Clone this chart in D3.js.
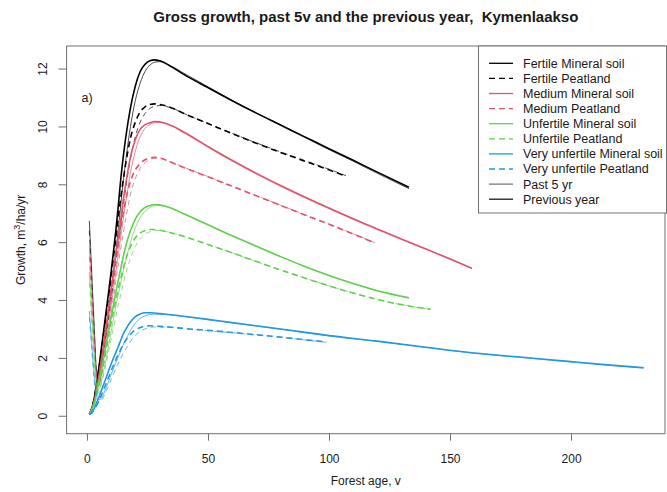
<!DOCTYPE html>
<html>
<head>
<meta charset="utf-8">
<script src="https://cdn.jsdelivr.net/npm/d3@7"></script>
<style>
  html, body { margin: 0; padding: 0; background: #fff; }
  svg text { font-family: "Liberation Sans", Arial, sans-serif; fill: #1a1a1a; }
</style>
</head>
<body>
<svg id="chart" width="667" height="492"></svg>
<script>
// ---- data -------------------------------------------------------------
// Common ages for the rising part of every curve (years)
const riseAges = [1,2,3,4,5,6,7,8,9,10,11,12,13,14,15,16,18,20,22,24,26,28,30];

// Ages for the declining part, per site class
const fertileMineralAges   = [35,40,50,60,70,80,90,100,110,120,133];
const fertilePeatAges      = [35,40,50,60,70,80,90,100,107];
const mediumMineralAges    = [35,40,50,60,70,80,90,100,110,120,130,140,150,159];
const mediumPeatAges       = [35,40,50,60,70,80,90,100,110,119];
const unfertileMineralAges = [35,40,50,60,70,80,90,100,110,120,133];
const unfertilePeatAges    = [35,40,50,60,70,80,90,100,110,120,130,142];
const vuMineralAges        = [35,40,50,60,80,100,120,140,160,180,200,215,230];
const vuPeatAges           = [35,40,50,60,70,80,90,99];

// Growth, m3/ha/yr — previous year
const fertileMineralPrev = [0.05,0.25,0.6,1.1,1.7,2.35,3.0,3.65,4.3,4.98,5.7,6.45,7.3,8.2,8.95,9.6,
  10.65,11.4,11.9,12.15,12.27,12.3,12.27,
  12.06,11.8,11.34,10.89,10.46,10.05,9.64,9.23,8.83,8.42,7.9];
const fertilePeatPrev = [0.05,0.25,0.6,1.1,1.65,2.25,2.9,3.5,4.15,4.8,5.5,6.2,6.9,7.55,8.15,8.7,
  9.6,10.15,10.5,10.68,10.76,10.78,10.76,
  10.64,10.45,10.1,9.75,9.42,9.1,8.8,8.5,8.28];
const mediumMineralPrev = [0.05,0.22,0.5,0.9,1.4,1.95,2.55,3.15,3.75,4.4,5.0,5.6,6.2,6.8,7.45,8.0,
  8.95,9.55,9.9,10.06,10.13,10.17,10.16,
  10.02,9.8,9.3,8.82,8.37,7.95,7.55,7.17,6.8,6.45,6.1,5.76,5.42,5.1];
const mediumPeatPrev = [0.05,0.2,0.45,0.85,1.3,1.85,2.4,3.0,3.6,4.2,4.8,5.4,5.95,6.5,7.0,7.45,
  8.1,8.5,8.72,8.85,8.91,8.93,8.91,
  8.75,8.58,8.26,7.93,7.6,7.27,6.94,6.62,6.28,5.97];
const unfertileMineralPrev = [0.05,0.2,0.45,0.8,1.2,1.6,2.05,2.5,2.95,3.4,3.85,4.3,4.7,5.1,5.5,5.85,
  6.4,6.8,7.05,7.2,7.27,7.3,7.29,
  7.17,6.98,6.6,6.22,5.86,5.5,5.16,4.85,4.57,4.32,4.08];
const unfertilePeatPrev = [0.05,0.18,0.4,0.7,1.05,1.45,1.85,2.3,2.75,3.2,3.6,4.0,4.4,4.75,5.1,5.4,
  5.85,6.15,6.32,6.4,6.44,6.44,6.41,
  6.32,6.2,5.92,5.63,5.33,5.04,4.76,4.49,4.24,4.02,3.84,3.68];
const vuMineralPrev = [0.05,0.12,0.25,0.45,0.65,0.88,1.1,1.33,1.56,1.79,2.0,2.2,2.4,2.62,2.82,2.98,
  3.25,3.43,3.52,3.56,3.56,3.55,3.53,
  3.49,3.44,3.33,3.22,3.0,2.77,2.58,2.37,2.17,2.02,1.87,1.76,1.66];
const vuPeatPrev = [0.05,0.1,0.2,0.35,0.52,0.72,0.92,1.13,1.34,1.55,1.75,1.95,2.13,2.3,2.47,2.6,
  2.82,2.97,3.05,3.1,3.11,3.1,3.09,
  3.06,3.02,2.95,2.88,2.8,2.72,2.63,2.55];

// Growth, m3/ha/yr — mean of the past 5 years
const fertileMineralPast5 = [6.74,4.9,3.1,1.5,1.2,1.7,2.3,2.95,3.6,4.25,4.95,5.7,6.5,7.3,8.1,8.8,
  10.0,10.9,11.5,11.9,12.12,12.22,12.24,
  12.08,11.84,11.37,10.9,10.46,10.04,9.62,9.2,8.8,8.38,7.85];
const fertilePeatPast5 = [6.4,4.6,2.9,1.4,1.15,1.6,2.2,2.8,3.4,4.0,4.65,5.3,5.95,6.6,7.25,7.85,
  8.9,9.65,10.15,10.45,10.62,10.7,10.72,
  10.64,10.45,10.1,9.76,9.43,9.12,8.82,8.52,8.3];
const mediumMineralPast5 = [5.9,4.2,2.6,1.3,1.1,1.5,2.0,2.6,3.2,3.8,4.4,5.0,5.6,6.2,6.8,7.35,
  8.4,9.15,9.65,9.93,10.07,10.13,10.14,
  10.03,9.82,9.32,8.84,8.39,7.97,7.57,7.19,6.82,6.46,6.11,5.77,5.43,5.08];
const mediumPeatPast5 = [5.5,3.9,2.4,1.2,1.0,1.35,1.85,2.4,2.95,3.5,4.1,4.7,5.25,5.8,6.3,6.8,
  7.65,8.2,8.55,8.75,8.85,8.9,8.9,
  8.76,8.59,8.27,7.94,7.61,7.28,6.95,6.63,6.29,5.98];
const unfertileMineralPast5 = [4.98,3.5,2.1,1.05,0.9,1.2,1.6,2.0,2.45,2.9,3.35,3.8,4.2,4.6,5.0,5.35,
  6.0,6.5,6.85,7.07,7.2,7.26,7.27,
  7.17,6.98,6.6,6.22,5.86,5.5,5.16,4.85,4.57,4.32,4.06];
const unfertilePeatPast5 = [4.6,3.2,1.9,0.95,0.8,1.1,1.45,1.85,2.25,2.65,3.05,3.45,3.85,4.2,4.55,4.9,
  5.45,5.85,6.12,6.28,6.36,6.4,6.4,
  6.32,6.2,5.92,5.63,5.33,5.04,4.76,4.49,4.24,4.02,3.84,3.68];
const vuMineralPast5 = [3.62,2.5,1.4,0.7,0.55,0.6,0.78,0.98,1.2,1.42,1.64,1.85,2.05,2.25,2.45,2.62,
  2.95,3.2,3.36,3.45,3.5,3.51,3.51,
  3.48,3.43,3.32,3.21,2.99,2.76,2.57,2.36,2.16,2.01,1.86,1.75,1.65];
const vuPeatPast5 = [3.4,2.3,1.25,0.6,0.48,0.52,0.68,0.86,1.05,1.25,1.45,1.64,1.82,2.0,2.16,2.3,
  2.58,2.78,2.92,3.0,3.05,3.07,3.07,
  3.05,3.01,2.94,2.87,2.79,2.71,2.62,2.54];

const classNames = ["Fertile Mineral soil","Fertile Peatland","Medium Mineral soil","Medium Peatland",
  "Unfertile Mineral soil","Unfertile Peatland","Very unfertile Mineral soil","Very unfertile Peatland"];
const classColors = ["#000000","#000000","#DF536B","#DF536B","#61D04F","#61D04F","#2297E6","#2297E6"];
const classDashed = [false,true,false,true,false,true,false,true];
const classAges = [fertileMineralAges,fertilePeatAges,mediumMineralAges,mediumPeatAges,
  unfertileMineralAges,unfertilePeatAges,vuMineralAges,vuPeatAges];
const prevSeries = [fertileMineralPrev,fertilePeatPrev,mediumMineralPrev,mediumPeatPrev,
  unfertileMineralPrev,unfertilePeatPrev,vuMineralPrev,vuPeatPrev];
const past5Series = [fertileMineralPast5,fertilePeatPast5,mediumMineralPast5,mediumPeatPast5,
  unfertileMineralPast5,unfertilePeatPast5,vuMineralPast5,vuPeatPast5];

const xTicks = [0,50,100,150,200];
const yTicks = [0,2,4,6,8,10,12];
const periodLabels = ["Past 5 yr","Previous year"];

// ---- layout -----------------------------------------------------------
const svg = d3.select("#chart");
const plot = {left: 66.6, right: 665, top: 46, bottom: 433.7};
const x = d3.scaleLinear().domain([-8.4, 238.8]).range([plot.left, plot.right]);
const y = d3.scaleLinear().domain([-0.62, 12.78]).range([plot.bottom, plot.top]);
const axisGrey = "#707070";

svg.append("defs").append("clipPath").attr("id","plotclip")
  .append("rect").attr("x",plot.left).attr("y",plot.top)
  .attr("width",plot.right-plot.left).attr("height",plot.bottom-plot.top);

// title
svg.append("text").attr("x",(plot.left+plot.right)/2).attr("y",22)
  .attr("text-anchor","middle").attr("font-size",15).attr("font-weight","bold")
  .style("white-space","pre")
  .text("Gross growth, past 5v and the previous year,  Kymenlaakso");

// x axis
const xAxis = svg.append("g").attr("transform",`translate(0,${plot.bottom})`)
  .call(d3.axisBottom(x).tickValues(xTicks).tickSize(7).tickPadding(14).tickSizeOuter(0));
xAxis.select(".domain").remove();
xAxis.selectAll(".tick line").attr("stroke",axisGrey);
xAxis.selectAll(".tick text").attr("font-size",12).attr("font-family",null).attr("fill","#1a1a1a");

// y axis with rotated labels
const yAxis = svg.append("g").attr("transform",`translate(${plot.left},0)`)
  .call(d3.axisLeft(y).tickValues(yTicks).tickSize(8).tickSizeOuter(0));
yAxis.select(".domain").remove();
yAxis.selectAll(".tick line").attr("stroke",axisGrey);
yAxis.selectAll(".tick text")
  .attr("font-size",12).attr("font-family",null).attr("fill","#1a1a1a")
  .attr("x",0).attr("dy",null).attr("text-anchor","middle")
  .attr("transform","translate(-19.5,0) rotate(-90)");

// axis titles
svg.append("text").attr("x",(plot.left+plot.right)/2).attr("y",485)
  .attr("text-anchor","middle").attr("font-size",12).text("Forest age, v");
const ylab = svg.append("text").attr("text-anchor","middle").attr("font-size",12)
  .attr("transform",`translate(25,${(plot.top+plot.bottom)/2}) rotate(-90)`);
ylab.append("tspan").text("Growth, m");
ylab.append("tspan").attr("dy",-5).attr("font-size",9).text("3");
ylab.append("tspan").attr("dy",5).text("/ha/yr");

// panel tag
svg.append("text").attr("x",81.5).attr("y",102).attr("font-size",12.5).text("a)");

// ---- curves -----------------------------------------------------------
const line = d3.line().x(d => x(d[0])).y(d => y(d[1])).curve(d3.curveMonotoneX);
const curves = svg.append("g").attr("clip-path","url(#plotclip)");

classNames.forEach((name, i) => {
  const ages = riseAges.concat(classAges[i]);
  const prev = ages.map((a, k) => [a, prevSeries[i][k]]);
  const past = ages.map((a, k) => [a, past5Series[i][k]]);
  curves.append("path").datum(past)
    .attr("d", line).attr("fill","none")
    .attr("stroke", classColors[i]).attr("stroke-opacity",0.7).attr("stroke-width",1)
    .attr("stroke-dasharray", classDashed[i] ? "5,4" : null);
  curves.append("path").datum(prev)
    .attr("d", line).attr("fill","none")
    .attr("stroke", classColors[i]).attr("stroke-width",1.6)
    .attr("stroke-dasharray", classDashed[i] ? "6,4" : null);
});

// plot frame
svg.append("rect").attr("x",plot.left).attr("y",plot.top)
  .attr("width",plot.right-plot.left).attr("height",plot.bottom-plot.top)
  .attr("fill","none").attr("stroke",axisGrey).attr("stroke-width",1);

// ---- legend -----------------------------------------------------------
const leg = svg.append("g");
leg.append("rect").attr("x",478.5).attr("y",46).attr("width",188).attr("height",167)
  .attr("fill","#fff").attr("stroke",axisGrey).attr("stroke-width",1);
const legRows = classNames.map((n, i) => ({label: n, color: classColors[i], dashed: classDashed[i], w: 1.3}))
  .concat([
    {label: periodLabels[0], color: "#555555", dashed: false, w: 1},
    {label: periodLabels[1], color: "#1a1a1a", dashed: false, w: 1.3}
  ]);
legRows.forEach((r, i) => {
  const yy = 63.3 + i * 15.1;
  leg.append("line").attr("x1",489).attr("x2",513).attr("y1",yy).attr("y2",yy)
    .attr("stroke",r.color).attr("stroke-width",r.w)
    .attr("stroke-dasharray", r.dashed ? "6,4" : null);
  leg.append("text").attr("x",523).attr("y",yy+4.4).attr("font-size",12.5).text(r.label);
});
</script>
</body>
</html>
